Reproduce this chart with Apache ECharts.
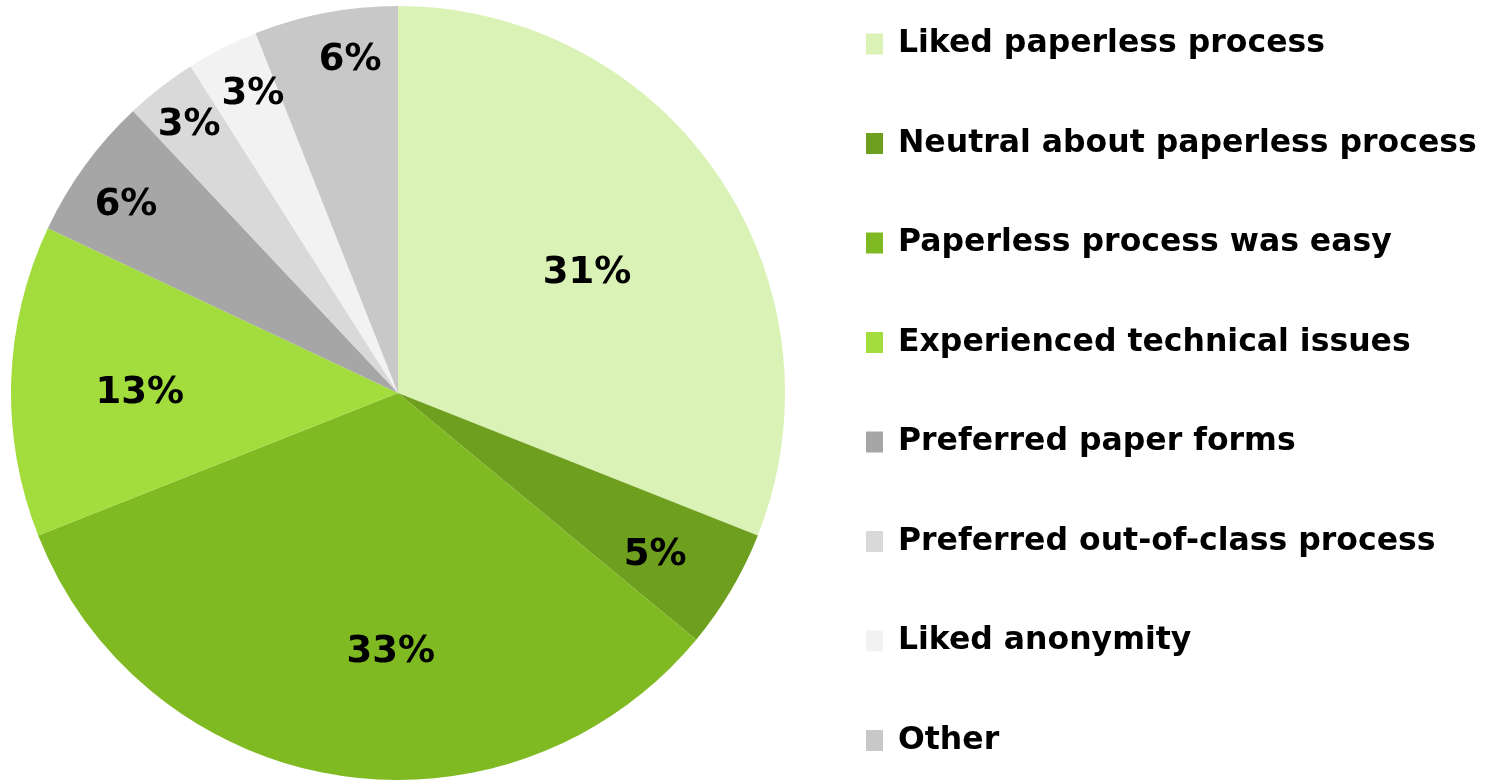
<!DOCTYPE html>
<html>
<head>
<meta charset="utf-8">
<script src="https://cdn.jsdelivr.net/npm/echarts@6/dist/echarts.min.js"></script>
<style>html,body{margin:0;padding:0;background:#fff}#c{width:1496px;height:780px}</style>
</head>
<body>
<div id="c"></div>
<script>
const categories = [
  "Liked paperless process",
  "Neutral about paperless process",
  "Paperless process was easy",
  "Experienced technical issues",
  "Preferred paper forms",
  "Preferred out-of-class process",
  "Liked anonymity",
  "Other"
];
const values = [31, 5, 33, 13, 6, 3, 3, 6];
const colors = ["#DAF2B6", "#6F9F1E", "#80BA22", "#A3DD3D", "#A6A6A6", "#D9D9D9", "#F2F2F2", "#C8C8C8"];
// label placement: radial fraction of radius and angular nudge (degrees) from the slice's mid-angle
const labelRadius = [0.583, 0.781, 0.659, 0.667, 0.860, 0.886, 0.868, 0.879];
const labelAngleNudge = [1.1, 1.1, -7.4, -1.1, -0.8, 0.3, 1.4, 2.7];

const CX = 398, CY = 393, R = 387;
const FONT = "'DejaVu Sans', sans-serif";

const total = values.reduce((a, b) => a + b, 0);
const midAngles = [];
(function () {
  let acc = 0;
  values.forEach(v => { midAngles.push((acc + v / 2) / total * 360); acc += v; });
})();

const chart = echarts.init(document.getElementById('c'));
chart.setOption({
  animation: false,
  color: colors,
  legend: {
    orient: 'vertical',
    left: 861,
    top: 23,
    itemWidth: 17,
    itemHeight: 21,
    itemGap: 67.5,
    icon: 'rect',
    data: categories,
    textStyle: {
      fontFamily: FONT,
      fontWeight: 'bold',
      fontSize: 31.5,
      color: '#000',
      padding: [0, 0, 0, 10]
    }
  },
  series: [{
    type: 'pie',
    center: [CX, CY],
    radius: [0, R],
    startAngle: 90,
    clockwise: true,
    silent: true,
    label: {
      show: true,
      position: 'inside',
      formatter: '{d}%',
      fontFamily: FONT,
      fontWeight: 'bold',
      fontSize: 37,
      color: '#000'
    },
    labelLine: { show: false },
    labelLayout: function (p) {
      const i = p.dataIndex;
      const a = (midAngles[i] + labelAngleNudge[i]) * Math.PI / 180;
      const d = labelRadius[i] * R;
      return {
        x: CX + d * Math.sin(a),
        y: CY - d * Math.cos(a) + 4,
        align: 'center',
        verticalAlign: 'middle'
      };
    },
    itemStyle: { borderWidth: 0 },
    data: categories.map((n, i) => ({ name: n, value: values[i] }))
  }]
});
</script>
</body>
</html>
